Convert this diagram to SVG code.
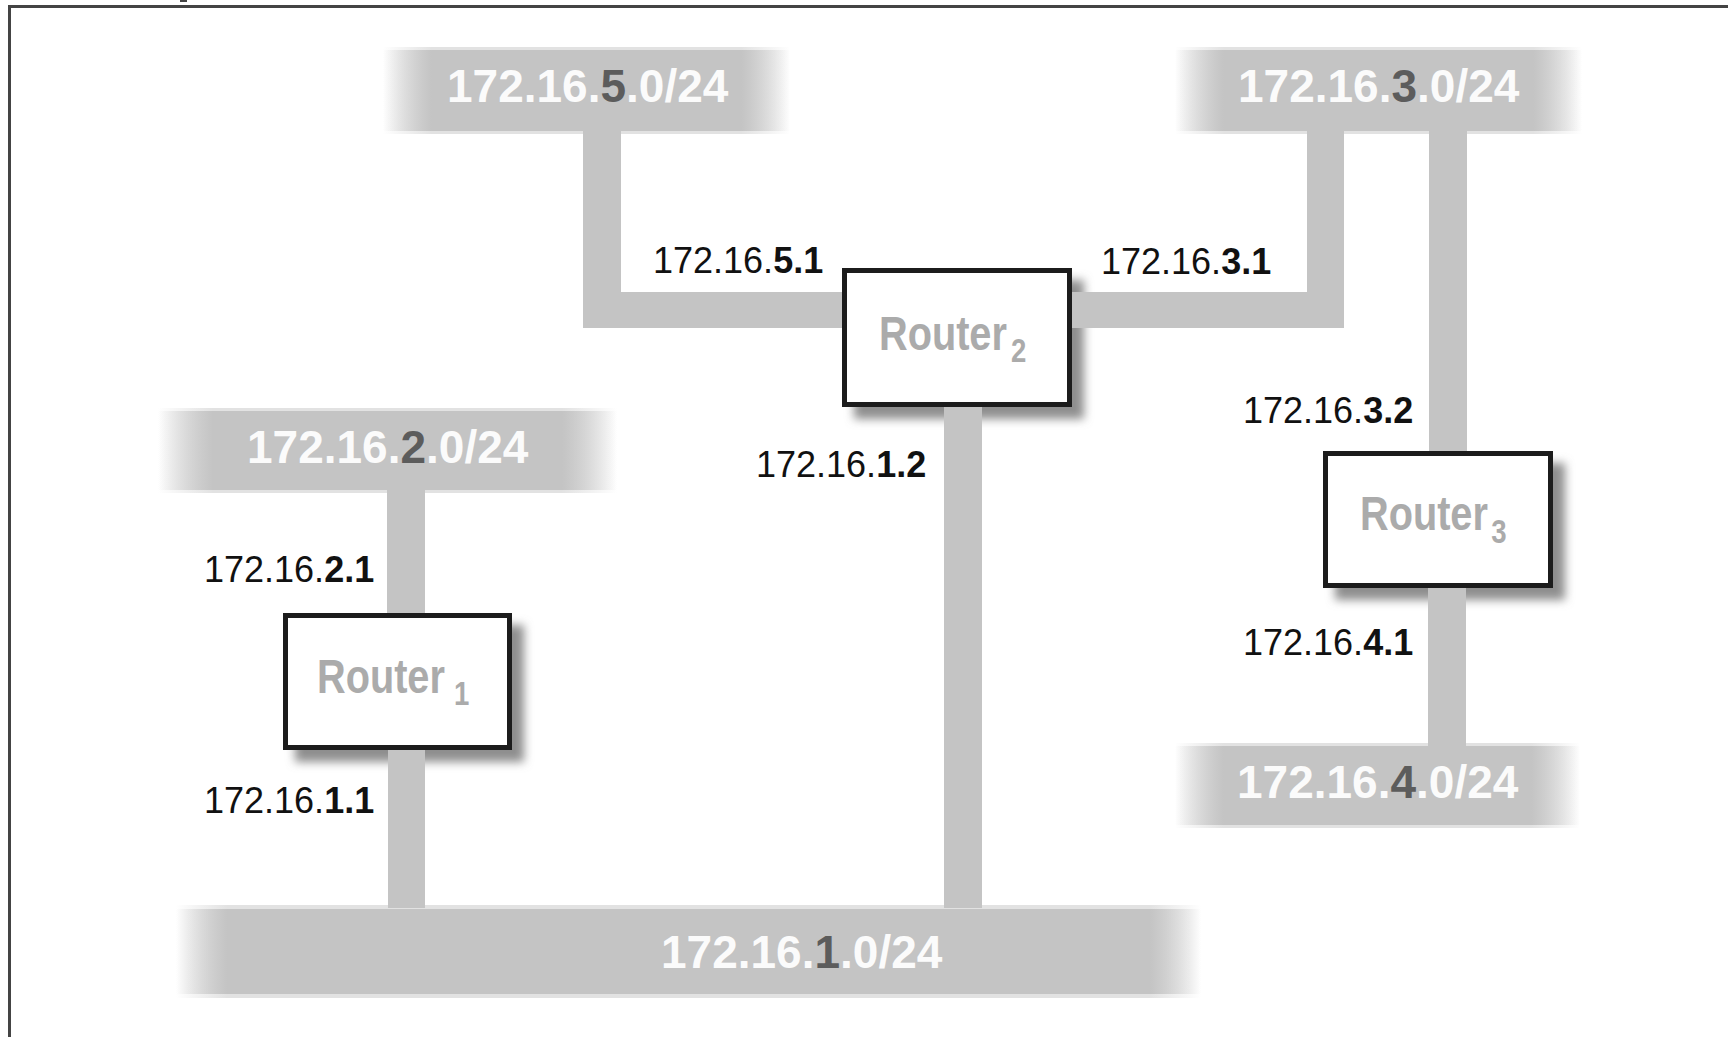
<svg xmlns="http://www.w3.org/2000/svg" width="1728" height="1037" viewBox="0 0 1728 1037">
<style>
.lbl{font-family:"Liberation Sans",Arial,sans-serif;font-size:36px;fill:#111}
.b{font-weight:bold}
.net{font-family:"Liberation Sans",Arial,sans-serif;font-size:46px;font-weight:bold;fill:#fbfbfb}
.oct{fill:#5c5c5c}
.rt{font-family:"Liberation Sans",Arial,sans-serif;font-weight:bold;fill:#ababab;font-size:49px}
.sub{font-size:34px}
.box{fill:#fff;stroke:#1c1c1c;stroke-width:5}
.stem{fill:#c4c4c4}
.shadow{fill:#8e8e8e;filter:url(#blur)}
</style>
<defs>
<linearGradient id="fadeS" x1="0" y1="0" x2="1" y2="0">
<stop offset="0" stop-color="#c4c4c4" stop-opacity="0"/>
<stop offset="0.12" stop-color="#c4c4c4"/>
<stop offset="0.88" stop-color="#c4c4c4"/>
<stop offset="1" stop-color="#c4c4c4" stop-opacity="0"/>
</linearGradient>
<linearGradient id="fadeSL" x1="0" y1="0" x2="1" y2="0">
<stop offset="0" stop-color="#e2e2e2" stop-opacity="0"/>
<stop offset="0.12" stop-color="#e2e2e2"/>
<stop offset="0.88" stop-color="#e2e2e2"/>
<stop offset="1" stop-color="#e2e2e2" stop-opacity="0"/>
</linearGradient>
<linearGradient id="fadeL" x1="0" y1="0" x2="1" y2="0">
<stop offset="0" stop-color="#c4c4c4" stop-opacity="0"/>
<stop offset="0.05" stop-color="#c4c4c4"/>
<stop offset="0.95" stop-color="#c4c4c4"/>
<stop offset="1" stop-color="#c4c4c4" stop-opacity="0"/>
</linearGradient>
<linearGradient id="fadeLL" x1="0" y1="0" x2="1" y2="0">
<stop offset="0" stop-color="#e2e2e2" stop-opacity="0"/>
<stop offset="0.05" stop-color="#e2e2e2"/>
<stop offset="0.95" stop-color="#e2e2e2"/>
<stop offset="1" stop-color="#e2e2e2" stop-opacity="0"/>
</linearGradient>
<filter id="blur" x="-20%" y="-20%" width="140%" height="140%">
<feGaussianBlur stdDeviation="5"/>
</filter>
</defs>
<rect width="1728" height="1037" fill="#fff"/>
<g id="frame" fill="#444">
<rect x="8" y="5" width="1720" height="3"/>
<rect x="8" y="5" width="3" height="1032"/>
<rect x="180" y="0" width="7" height="2"/>
</g>

<g id="net-172-16-5-0">
<rect x="383" y="47" width="407" height="87" fill="url(#fadeSL)"/>
<rect x="383" y="50" width="407" height="81" fill="url(#fadeS)"/>
<text class="net" x="447" y="102">172.16.<tspan class="oct">5</tspan>.0/24</text>
</g>
<g id="net-172-16-3-0">
<rect x="1175" y="47" width="407" height="87" fill="url(#fadeSL)"/>
<rect x="1175" y="50" width="407" height="81" fill="url(#fadeS)"/>
<text class="net" x="1238" y="102">172.16.<tspan class="oct">3</tspan>.0/24</text>
</g>
<g id="net-172-16-2-0">
<rect x="158" y="408" width="459" height="85" fill="url(#fadeSL)"/>
<rect x="158" y="411" width="459" height="79" fill="url(#fadeS)"/>
<text class="net" x="247" y="463">172.16.<tspan class="oct">2</tspan>.0/24</text>
</g>
<g id="net-172-16-4-0">
<rect x="1175" y="743" width="405" height="85" fill="url(#fadeSL)"/>
<rect x="1175" y="746" width="405" height="79" fill="url(#fadeS)"/>
<text class="net" x="1237" y="798">172.16.<tspan class="oct">4</tspan>.0/24</text>
</g>
<g id="net-172-16-1-0">
<rect x="176" y="905" width="1025" height="93" fill="url(#fadeLL)"/>
<rect x="176" y="909" width="1025" height="85" fill="url(#fadeL)"/>
<text class="net" x="661" y="968">172.16.<tspan class="oct">1</tspan>.0/24</text>
</g>

<g id="shadows">
<rect class="shadow" x="295" y="625" width="229" height="137"/>
<rect class="shadow" x="854" y="280" width="230" height="139"/>
<rect class="shadow" x="1335" y="463" width="230" height="137"/>
</g>

<g id="connectors">
<rect class="stem" x="583" y="130" width="38" height="198"/>
<rect class="stem" x="583" y="292" width="262" height="36"/>
<rect class="stem" x="1307" y="130" width="37" height="198"/>
<rect class="stem" x="1070" y="292" width="274" height="36"/>
<rect class="stem" x="1429" y="130" width="38" height="325"/>
<rect class="stem" x="1428" y="585" width="38" height="162"/>
<rect class="stem" x="387" y="490" width="38" height="126"/>
<rect class="stem" x="388" y="748" width="37" height="160"/>
<rect class="stem" x="944" y="404" width="38" height="504"/>
</g>

<g id="router1">
<rect class="box" x="285.5" y="615.5" width="224" height="132"/>
<text class="rt" transform="translate(317,693) scale(0.81,1)"><tspan x="0" y="0">Router</tspan><tspan class="sub" x="169" y="12">1</tspan></text>
</g>
<g id="router2">
<rect class="box" x="844.5" y="270.5" width="225" height="134"/>
<text class="rt" transform="translate(879,350) scale(0.81,1)"><tspan x="0" y="0">Router</tspan><tspan class="sub" x="163" y="12">2</tspan></text>
</g>
<g id="router3">
<rect class="box" x="1325.5" y="453.5" width="225" height="132"/>
<text class="rt" transform="translate(1360,530) scale(0.81,1)"><tspan x="0" y="0">Router</tspan><tspan class="sub" x="162" y="13">3</tspan></text>
</g>

<g id="labels">
<text class="lbl" x="653" y="273">172.16.<tspan class="b">5.1</tspan></text>
<text class="lbl" x="1101" y="274">172.16.<tspan class="b">3.1</tspan></text>
<text class="lbl" x="756" y="477">172.16.<tspan class="b">1.2</tspan></text>
<text class="lbl" x="204" y="582">172.16.<tspan class="b">2.1</tspan></text>
<text class="lbl" x="204" y="813">172.16.<tspan class="b">1.1</tspan></text>
<text class="lbl" x="1243" y="423">172.16.<tspan class="b">3.2</tspan></text>
<text class="lbl" x="1243" y="655">172.16.<tspan class="b">4.1</tspan></text>
</g>
</svg>
